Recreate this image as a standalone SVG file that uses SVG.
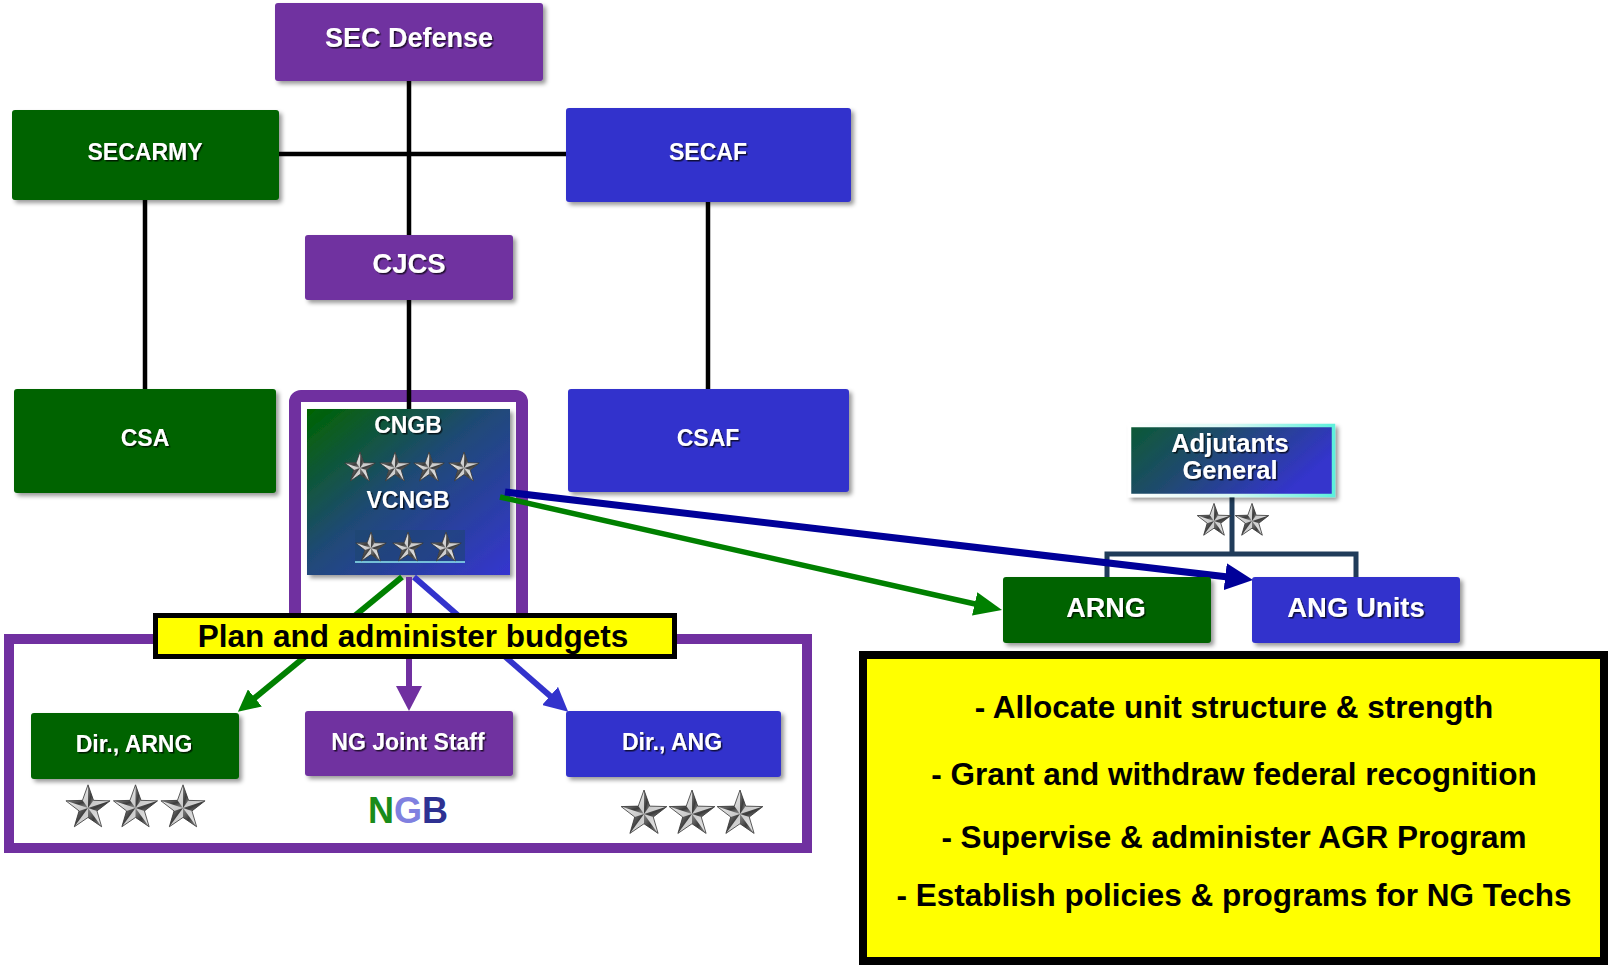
<svg xmlns="http://www.w3.org/2000/svg" width="1608" height="966" viewBox="0 0 1608 966">
<defs>
<style>
.t{font-family:"Liberation Sans",Arial,sans-serif;font-weight:bold;fill:#fff;text-anchor:middle;filter:url(#ts)}
.bt{font-family:"Liberation Sans",Arial,sans-serif;font-weight:bold;fill:#000;text-anchor:middle}
.box{filter:url(#sh)}
.green{fill:#006400}
.purple{fill:#7030a0}
.blue{fill:#3333cc}
.blk{stroke:#000;stroke-width:4.5;fill:none}
</style>
<filter id="sh" x="-10%" y="-10%" width="130%" height="140%"><feDropShadow dx="3" dy="3" stdDeviation="2" flood-color="#000" flood-opacity="0.4"/></filter>
<filter id="ts" x="-10%" y="-20%" width="130%" height="150%"><feDropShadow dx="1.5" dy="1.5" stdDeviation="0.7" flood-color="#000" flood-opacity="0.7"/></filter>
<linearGradient id="cngbGrad" x1="0" y1="0" x2="1" y2="1"><stop offset="0" stop-color="#006400"/><stop offset="0.45" stop-color="#1f4a74"/><stop offset="1" stop-color="#3535d0"/></linearGradient>
<linearGradient id="agGrad" x1="0" y1="0" x2="1" y2="0.4"><stop offset="0" stop-color="#0b5a33"/><stop offset="0.45" stop-color="#204a70"/><stop offset="1" stop-color="#3434cc"/></linearGradient>
<linearGradient id="cyanGrad" x1="0" y1="0" x2="1" y2="0"><stop offset="0" stop-color="#ffffff"/><stop offset="0.5" stop-color="#d8f8f4"/><stop offset="1" stop-color="#5ef0dc"/></linearGradient>
<linearGradient id="starLight" x1="0" y1="0" x2="1" y2="1"><stop offset="0" stop-color="#ffffff"/><stop offset="0.5" stop-color="#c8c8c8"/><stop offset="1" stop-color="#f0f0f0"/></linearGradient>
<linearGradient id="starDark" x1="0" y1="0" x2="1" y2="1"><stop offset="0" stop-color="#8a8a8a"/><stop offset="0.5" stop-color="#3c3c3c"/><stop offset="1" stop-color="#9a9a9a"/></linearGradient>
<g id="star">
<polygon points="0,-16 3.82,-5.26 15.22,-4.94 6.18,2.01 9.4,12.94 0,6.5 -9.4,12.94 -6.18,2.01 -15.22,-4.94 -3.82,-5.26" fill="url(#starLight)"/>
<polygon points="0,0 0,-16 3.82,-5.26" fill="url(#starDark)"/>
<polygon points="0,0 15.22,-4.94 6.18,2.01" fill="url(#starDark)"/>
<polygon points="0,0 9.4,12.94 0,6.5" fill="url(#starDark)"/>
<polygon points="0,0 -9.4,12.94 -6.18,2.01" fill="url(#starDark)"/>
<polygon points="0,0 -15.22,-4.94 -3.82,-5.26" fill="url(#starDark)"/>
<polygon points="0,-16 3.82,-5.26 15.22,-4.94 6.18,2.01 9.4,12.94 0,6.5 -9.4,12.94 -6.18,2.01 -15.22,-4.94 -3.82,-5.26" fill="none" stroke="#333" stroke-width="0.8" vector-effect="non-scaling-stroke"/>
</g>
<marker id="ahGreen" viewBox="0 0 10 10" refX="1" refY="5" markerWidth="22" markerHeight="22" markerUnits="userSpaceOnUse" orient="auto" preserveAspectRatio="none"><path d="M0,0 L10,5 L0,10 z" fill="#008000"/></marker>
<marker id="ahPurple" viewBox="0 0 10 10" refX="1" refY="5" markerWidth="25" markerHeight="26" markerUnits="userSpaceOnUse" orient="auto" preserveAspectRatio="none"><path d="M0,0 L10,5 L0,10 z" fill="#7030a0"/></marker>
<marker id="ahBlue" viewBox="0 0 10 10" refX="1" refY="5" markerWidth="24" markerHeight="24" markerUnits="userSpaceOnUse" orient="auto" preserveAspectRatio="none"><path d="M0,0 L10,5 L0,10 z" fill="#3333cc"/></marker>
<marker id="ahNavy" viewBox="0 0 10 10" refX="1" refY="5" markerWidth="28" markerHeight="27" markerUnits="userSpaceOnUse" orient="auto" preserveAspectRatio="none"><path d="M0,0 L10,5 L0,10 z" fill="#000099"/></marker>
<marker id="ahGreenL" viewBox="0 0 10 10" refX="1" refY="5" markerWidth="28" markerHeight="24" markerUnits="userSpaceOnUse" orient="auto" preserveAspectRatio="none"><path d="M0,0 L10,5 L0,10 z" fill="#008000"/></marker>
</defs>
<rect width="1608" height="966" fill="#fff"/>

<g id="ngb-frame">
<rect x="9" y="639" width="798" height="209" fill="none" stroke="#7030a0" stroke-width="10"/>
<path d="M295,639 V402 a6,6 0 0 1 6,-6 H516 a6,6 0 0 1 6,6 V639" fill="none" stroke="#7030a0" stroke-width="12"/>
<text x="408" y="823" font-family="Liberation Sans,Arial,sans-serif" font-weight="bold" font-size="36" text-anchor="middle"><tspan fill="#1a8c1a">N</tspan><tspan fill="#8080e0">G</tspan><tspan fill="#2e3192">B</tspan></text>
</g>

<g id="connectors">
<line class="blk" x1="409" y1="81" x2="409" y2="236"/>
<line class="blk" x1="279" y1="154" x2="566" y2="154"/>
<line class="blk" x1="409" y1="300" x2="409" y2="410"/>
<line class="blk" x1="145" y1="200" x2="145" y2="390"/>
<line class="blk" x1="708" y1="202" x2="708" y2="390"/>
<path d="M1232,495 V554 M1107,578 V554 H1356 V578" fill="none" stroke="#203c5a" stroke-width="5"/>
</g>

<g id="sec-defense"><rect class="box purple" x="275" y="3" width="268" height="78" rx="3"/><text class="t" x="409" y="47" font-size="27">SEC Defense</text></g>
<g id="secarmy"><rect class="box green" x="12" y="110" width="267" height="90" rx="3"/><text class="t" x="145" y="160" font-size="23">SECARMY</text></g>
<g id="secaf"><rect class="box blue" x="566" y="108" width="285" height="94" rx="3"/><text class="t" x="708" y="160" font-size="23">SECAF</text></g>
<g id="cjcs"><rect class="box purple" x="305" y="235" width="208" height="65" rx="3"/><text class="t" x="409" y="273" font-size="27.5">CJCS</text></g>
<g id="csa"><rect class="box green" x="14" y="389" width="262" height="104" rx="3"/><text class="t" x="145" y="446" font-size="23">CSA</text></g>
<g id="csaf"><rect class="box blue" x="568" y="389" width="281" height="103" rx="3"/><text class="t" x="708" y="446" font-size="23">CSAF</text></g>

<g id="cngb">
<rect class="box" x="307" y="409" width="203" height="166" fill="url(#cngbGrad)"/>
<text class="t" x="408" y="433" font-size="23">CNGB</text>
<use href="#star" transform="translate(360,468)"/>
<use href="#star" transform="translate(395,468)"/>
<use href="#star" transform="translate(429,468)"/>
<use href="#star" transform="translate(464,468)"/>
<text class="t" x="408" y="508" font-size="23">VCNGB</text>
<rect x="355" y="530" width="110" height="32" fill="#1e4670" opacity="0.55"/>
<line x1="355" y1="562" x2="465" y2="562" stroke="#8fe8f0" stroke-width="1.5"/>
<use href="#star" transform="translate(371,548)"/>
<use href="#star" transform="translate(408,548)"/>
<use href="#star" transform="translate(446,548)"/>
</g>

<g id="arrows">
<line x1="402" y1="577" x2="253.2" y2="699.3" stroke="#008000" stroke-width="6" marker-end="url(#ahGreen)"/>
<line x1="409" y1="577" x2="409" y2="688.5" stroke="#7030a0" stroke-width="6" marker-end="url(#ahPurple)"/>
<line x1="414" y1="577" x2="551.9" y2="697.5" stroke="#3333cc" stroke-width="6" marker-end="url(#ahBlue)"/>
<line x1="500" y1="497" x2="977.4" y2="604.5" stroke="#008000" stroke-width="5.5" marker-end="url(#ahGreenL)"/>
<line x1="505" y1="492" x2="1228" y2="577.1" stroke="#000099" stroke-width="7" marker-end="url(#ahNavy)"/>
</g>

<g id="budget-note">
<rect x="155.5" y="615.5" width="519" height="41" fill="#ffff00" stroke="#000" stroke-width="5"/>
<text class="bt" x="413" y="647" font-size="31.5">Plan and administer budgets</text>
</g>

<g id="dir-arng"><rect class="box green" x="31" y="713" width="208" height="66" rx="3"/><text class="t" x="134" y="752" font-size="23">Dir., ARNG</text>
<use href="#star" transform="translate(88,808) scale(1.45)"/>
<use href="#star" transform="translate(135.5,808) scale(1.45)"/>
<use href="#star" transform="translate(183,808) scale(1.45)"/>
</g>
<g id="ng-joint-staff"><rect class="box purple" x="305" y="711" width="208" height="65" rx="3"/><text class="t" x="408" y="750" font-size="23">NG Joint Staff</text></g>
<g id="dir-ang"><rect class="box blue" x="566" y="711" width="215" height="66" rx="3"/><text class="t" x="672" y="750" font-size="23">Dir., ANG</text>
<use href="#star" transform="translate(644,814) scale(1.5)"/>
<use href="#star" transform="translate(692,814) scale(1.5)"/>
<use href="#star" transform="translate(740,814) scale(1.5)"/>
</g>

<g id="adjutants-general">
<rect class="box" x="1129.5" y="425.5" width="204" height="70" fill="url(#agGrad)" stroke="url(#cyanGrad)" stroke-width="3.5"/>
<text class="t" x="1230" y="452" font-size="25.5">Adjutants</text>
<text class="t" x="1230" y="479" font-size="25.5">General</text>
<use href="#star" transform="translate(1214,521) scale(1.1)"/>
<use href="#star" transform="translate(1252,521) scale(1.1)"/>
</g>
<g id="arng"><rect class="box green" x="1003" y="577" width="208" height="66" rx="3"/><text class="t" x="1106" y="617" font-size="27">ARNG</text></g>
<g id="ang-units"><rect class="box blue" x="1252" y="577" width="208" height="66" rx="3"/><text class="t" x="1356" y="617" font-size="27.5">ANG Units</text></g>

<g id="functions-note">
<rect x="863" y="655" width="741" height="306" fill="#ffff00" stroke="#000" stroke-width="8"/>
<text class="bt" x="1234" y="718" font-size="31.5">- Allocate unit structure &amp; strength</text>
<text class="bt" x="1234" y="785" font-size="31.5">- Grant and withdraw federal recognition</text>
<text class="bt" x="1234" y="848" font-size="31.5">- Supervise &amp; administer AGR Program</text>
<text class="bt" x="1234" y="906" font-size="31.5">- Establish policies &amp; programs for NG Techs</text>
</g>
</svg>
